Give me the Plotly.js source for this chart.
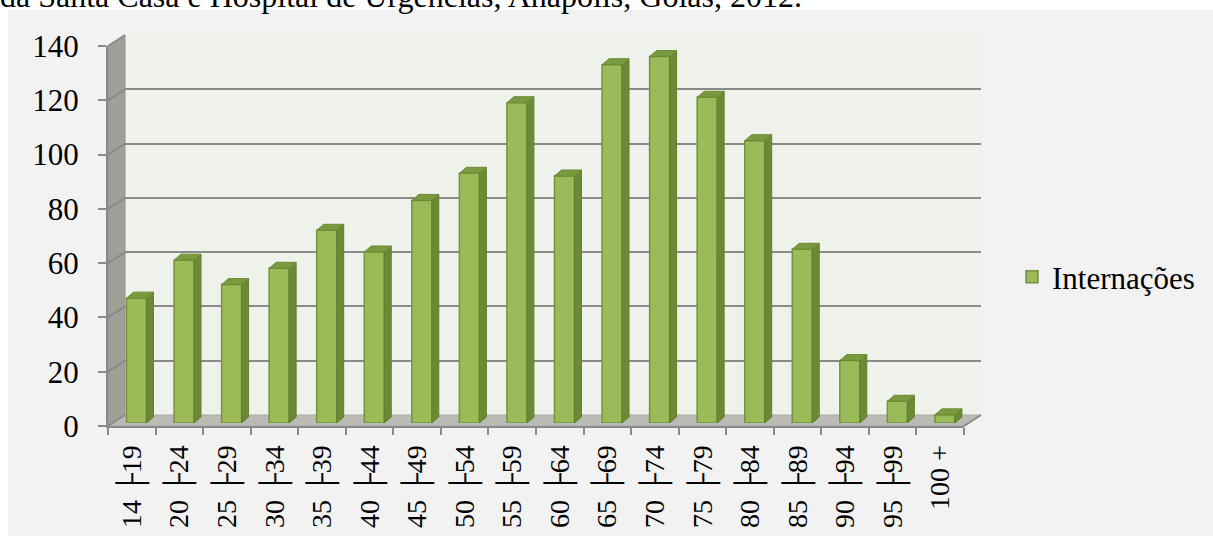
<!DOCTYPE html>
<html>
<head>
<meta charset="utf-8">
<script src="https://cdn.plot.ly/plotly-3.0.1.min.js"></script>
<style>
html,body{margin:0;padding:0;background:#fff;}
#wrap{position:relative;width:1213px;height:536px;overflow:hidden;}
#chart{width:1213px;height:536px;}
#header{position:absolute;left:0;top:-20px;font-family:'Liberation Serif',serif;font-size:32px;line-height:32px;color:#000;white-space:nowrap;z-index:5;}
</style>
</head>
<body>
<div id="wrap">
<div id="chart"></div>
<div id="header"></div>
</div>
<script>
// ---- data ----
const categories = ["14 \u251C19","20 \u251C24","25 \u251C29","30 \u251C34","35 \u251C39","40 \u251C44","45 \u251C49","50 \u251C54","55 \u251C59","60 \u251C64","65 \u251C69","70 \u251C74","75 \u251C79","80 \u251C84","85 \u251C89","90 \u251C94","95 \u251C99","100 +"];
const internacoes = [46, 60, 51, 57, 71, 63, 82, 92, 118, 91, 132, 135, 120, 104, 64, 23, 8, 3];
const yTicks = [0, 20, 40, 60, 80, 100, 120, 140];
const seriesName = "Internações";
const headerText = "da Santa Casa e Hospital de Urgências, Anápolis, Goiás, 2012.";
document.getElementById('header').textContent = headerText;

// ---- geometry (pixels) ----
const W = 1213, H = 536;
const fx = p => p / W, fy = p => 1 - p / H;
const FX0 = 108, FX1 = 964, FYB = 426, FYT = 46;   // front plane
const DX = 17, DY = 11;                             // wall depth
const BDX = 4.7, BDY = 3;                           // bar plane offset
const yMax = 140;
const pxPerUnit = (FYB - FYT) / yMax;
const n = categories.length;
const idx = categories.map((_, i) => i);
const bounds = []; for (let i = 0; i <= n; i++) bounds.push(i - 0.5);
const catPx = (FX1 - FX0) / n;

// bar prism faces, derived from the data
const half = 0.21;
const ddx = 7 / catPx, ddy = 6 / pxPerUnit;
const sideX = [], sideY = [], topX = [], topY = [];
internacoes.forEach((v, i) => {
  const x0 = i - half, x1 = i + half;
  sideX.push(x1, x1, x1 + ddx, x1 + ddx, x1, null);
  sideY.push(0, v, v + ddy, ddy, 0, null);
  topX.push(x0, x0 + ddx, x1 + ddx, x1, x0, null);
  topY.push(v, v + ddy, v + ddy, v, v, null);
});

// left-wall tick connectors (pixel space)
const diagX = [], diagY = [];
yTicks.forEach(v => {
  diagX.push(FX0, FX0 + DX, null);
  diagY.push(FYB - v * pxPerUnit, FYB - DY - v * pxPerUnit, null);
});
diagX.push(FX1, FX1 + DX, null); diagY.push(FYB, FYB - DY, null);

const font = "Liberation Serif";
const gray = "#8a8a8a";
const poly = (xs, ys, color, lineColor) => ({type: 'scatter', mode: 'lines', x: xs, y: ys, fill: 'toself',
  fillcolor: color, line: {color: lineColor || color, width: lineColor ? 1 : 0}, xaxis: 'x', yaxis: 'y',
  showlegend: false, hoverinfo: 'skip'});
const dummy = (xa, ya) => ({type: 'scatter', mode: 'markers', x: [0], y: [-10], xaxis: xa, yaxis: ya,
  showlegend: false, hoverinfo: 'skip', marker: {opacity: 0}});

const traces = [
  poly([8, W, W, 8, 8], [10, 10, H, H, 10], '#f2f2f2'),
  poly([FX0 + DX, FX1 + DX, FX1 + DX, FX0 + DX, FX0 + DX], [FYT - DY, FYT - DY, FYB - DY, FYB - DY, FYT - DY], '#eff2eb'),
  poly([FX0, FX0 + DX, FX0 + DX, FX0, FX0], [FYB, FYB - DY, FYT - DY, FYT, FYB], '#9fa199', '#8f918a'),
  poly([FX0, FX0 + DX, FX1 + DX, FX1, FX0], [FYB, FYB - DY, FYB - DY, FYB, FYB], '#b9bbb4', '#a9aba4'),
  {type: 'scatter', mode: 'lines', x: diagX, y: diagY, line: {color: gray, width: 2}, xaxis: 'x', yaxis: 'y',
   showlegend: false, hoverinfo: 'skip'},
  dummy('x2', 'y2'), dummy('x3', 'y3'), dummy('x4', 'y4'),
  {type: 'bar', x: idx, y: internacoes, width: 0.42, xaxis: 'x5', yaxis: 'y5', name: seriesName,
   marker: {color: '#9bbb59', line: {color: '#76923c', width: 1.5}}, hoverinfo: 'skip'},
  {type: 'scatter', mode: 'lines', x: sideX, y: sideY, fill: 'toself', fillcolor: '#6b8a35',
   line: {color: '#627f30', width: 1}, xaxis: 'x5', yaxis: 'y5', showlegend: false, hoverinfo: 'skip'},
  {type: 'scatter', mode: 'lines', x: topX, y: topY, fill: 'toself', fillcolor: '#7a9a40',
   line: {color: '#6b8a35', width: 1}, xaxis: 'x5', yaxis: 'y5', showlegend: false, hoverinfo: 'skip'}
];

const hidden = {showgrid: false, zeroline: false, showline: false, ticks: '', showticklabels: false, fixedrange: true};
const clear = 'rgba(0,0,0,0)';

const layout = {
  width: W, height: H, autosize: false,
  margin: {l: 0, r: 0, t: 0, b: 0},
  paper_bgcolor: '#ffffff', plot_bgcolor: clear,
  font: {family: font, size: 31, color: '#000'},
  showlegend: true,
  legend: {x: fx(1012), xanchor: 'left', y: fy(277), yanchor: 'middle', bgcolor: clear},
  // pixel-space background
  xaxis: Object.assign({domain: [0, 1], range: [0, W], anchor: 'y'}, hidden),
  yaxis: Object.assign({domain: [0, 1], range: [H, 0], anchor: 'x'}, hidden),
  // back wall grid
  xaxis2: Object.assign({domain: [fx(FX0 + DX), fx(FX1 + DX)], range: [-0.5, n - 0.5], anchor: 'y2'}, hidden),
  yaxis2: {domain: [fy(FYB - DY), fy(FYT - DY)], range: [0, yMax], anchor: 'x2',
           tickmode: 'array', tickvals: yTicks.slice(1), showgrid: true, gridcolor: gray, gridwidth: 2,
           zeroline: false, showline: false, ticks: '', showticklabels: false, fixedrange: true},
  // front labels
  xaxis3: {domain: [fx(FX0), fx(FX1)], range: [-0.5, n - 0.5], anchor: 'y3',
           tickmode: 'array', tickvals: idx, ticktext: categories, tickangle: -90,
           ticks: 'outside', ticklen: 7, tickcolor: clear,
           showline: false, showgrid: false, zeroline: false, tickfont: {size: 28}, fixedrange: true},
  yaxis3: {domain: [fy(FYB), fy(FYT)], range: [0, yMax], anchor: 'x3',
           tickmode: 'array', tickvals: yTicks, ticks: 'outside', ticklen: 22, tickcolor: clear,
           showline: false, showgrid: false, zeroline: false, fixedrange: true},
  // front tick marks and edges
  xaxis4: {domain: [fx(FX0), fx(FX1)], anchor: 'y4', range: [-0.5, n - 0.5], tickmode: 'array', tickvals: bounds,
           ticks: 'outside', ticklen: 7, tickwidth: 2, tickcolor: gray, showticklabels: false,
           showline: true, linecolor: gray, linewidth: 2, showgrid: false, zeroline: false, fixedrange: true},
  yaxis4: {domain: [fy(FYB), fy(FYT)], range: [0, yMax], anchor: 'x4', tickmode: 'array', tickvals: yTicks,
           ticks: 'outside', ticklen: 8, tickwidth: 2, tickcolor: gray, showticklabels: false,
           showline: true, linecolor: gray, linewidth: 2, showgrid: false, zeroline: false, fixedrange: true},
  // bars
  xaxis5: Object.assign({domain: [fx(FX0 + BDX), fx(FX1 + BDX)], range: [-0.5, n - 0.5], anchor: 'y5'}, hidden),
  yaxis5: Object.assign({domain: [fy(FYB - BDY), fy(FYT - BDY)], range: [0, yMax], anchor: 'x5'}, hidden)
};

Plotly.newPlot('chart', traces, layout, {displayModeBar: false, staticPlot: true});
</script>
</body>
</html>
